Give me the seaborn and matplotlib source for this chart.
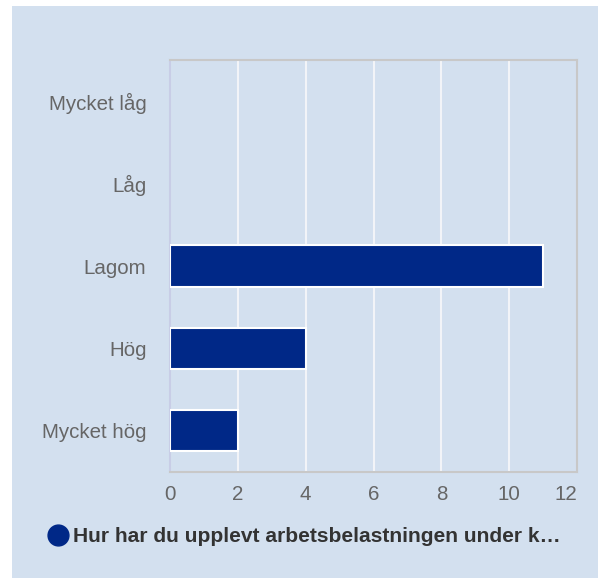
import matplotlib
matplotlib.use("Agg")
import matplotlib.pyplot as plt
import matplotlib.patches as mpatches
from matplotlib.lines import Line2D
import seaborn as sns

# --- data ---
categories = ["Mycket låg", "Låg", "Lagom", "Hög", "Mycket hög"]
values = [0, 0, 11, 4, 2]
x_ticks = [0, 2, 4, 6, 8, 10, 12]
series_name = "Hur har du upplevt arbetsbelastningen under k…"

BG = "#d3e0ef"
BAR = "#002887"

sns.set_style("white")
plt.rcParams["font.family"] = ["Liberation Sans", "DejaVu Sans"]

W, H = 598, 578
fig = plt.figure(figsize=(W / 100, H / 100), dpi=100, facecolor="white")
# light blue panel (white strip on left and top)
bg = mpatches.Rectangle((12 / W, 0), 1 - 12 / W, 1 - 6 / H,
                        transform=fig.transFigure, facecolor=BG,
                        edgecolor="none", zorder=-10)
fig.add_artist(bg)

ax = fig.add_axes([170 / W, 1 - 472 / H, (577 - 170) / W, (472 - 60) / H])
ax.set_zorder(5)
ax.set_facecolor(BG)

sns.barplot(x=values, y=categories, orient="h", color=BAR, width=0.5,
            edgecolor="white", linewidth=1.5, saturation=1, ax=ax, zorder=3)
# no outline on empty bars
for p in ax.patches:
    if p.get_width() == 0:
        p.set_linewidth(0)

ax.set_xlim(0, 12)
ax.set_xticks(x_ticks)
ax.set_xticklabels([str(t) for t in x_ticks])
ax.get_xticklabels()[-1].set_horizontalalignment("right")
ax.grid(axis="x", color="#f2f4f8", linewidth=1.5, zorder=0)
ax.set_axisbelow(True)
ax.tick_params(axis="both", length=0, labelsize=14.8, colors="#666666", pad=9)
ax.tick_params(axis="y", pad=17)
ax.set_xlabel("")
ax.set_ylabel("")

for side in ["top", "right", "bottom"]:
    ax.spines[side].set_visible(True)
    ax.spines[side].set_color("#c8c8c8")
    ax.spines[side].set_linewidth(1.5)
ax.spines["left"].set_color("#c8cde6")
ax.spines["left"].set_linewidth(1.5)

# legend
handle = Line2D([], [], marker="o", linestyle="none", markersize=15,
                markerfacecolor=BAR, markeredgecolor=BAR)
leg = fig.legend([handle], [series_name], loc="center left",
                 bbox_to_anchor=(35 / W, 1 - 537 / H), frameon=False,
                 handletextpad=0.1, borderpad=0, handlelength=1.2,
                 prop={"weight": "bold", "size": 15.1})
leg.set_zorder(6)
for t in leg.get_texts():
    t.set_color("#333333")

fig.savefig("out.png", dpi=100, facecolor="white")
